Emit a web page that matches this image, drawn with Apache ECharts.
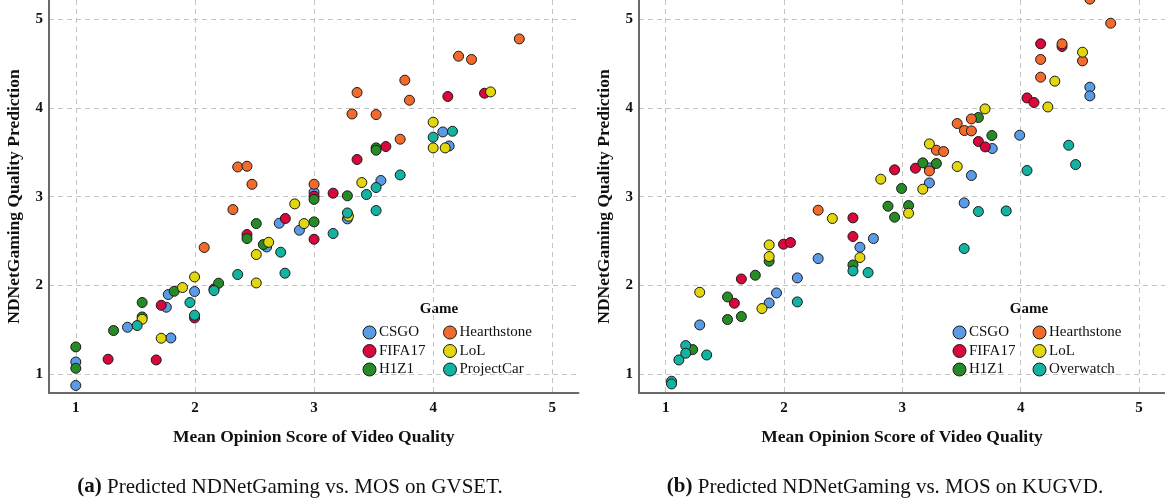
<!DOCTYPE html>
<html>
<head>
<meta charset="utf-8">
<script src="https://cdn.jsdelivr.net/npm/echarts@6/dist/echarts.min.js"></script>
<style>
  html, body { margin: 0; padding: 0; background: #fff; }
  #chart { width: 1165px; height: 504px; }
</style>
</head>
<body>
<div id="chart"></div>
<script>
// Game titles and their colours
const games = ['CSGO', 'FIFA17', 'H1Z1', 'Hearthstone', 'LoL', 'ProjectCar', 'Overwatch'];
const gameColors = {
  CSGO: '#5b9be6', FIFA17: '#d9073b', H1Z1: '#268a26',
  Hearthstone: '#f26b2c', LoL: '#e2d70c', ProjectCar: '#12b3a0', Overwatch: '#12b3a0'
};
const tickValues = [1, 2, 3, 4, 5];

// GVSET: [MOS, predicted score]
const gvsetCSGO = [[1,0.87],[1,1.135],[1.434,1.527],[1.76,1.753],[1.776,1.896],[1.798,1.406],[1.997,1.93],[2.602,2.433],[2.708,2.701],[2.877,2.622],[3.0,3.05],[3.28,2.75],[3.561,3.183],[4.081,3.731],[4.134,3.573]];
const gvsetFIFA17 = [[1.271,1.166],[1.675,1.158],[1.717,1.775],[1.997,1.632],[2.16,1.959],[2.437,2.573],[2.759,2.754],[3.0,2.52],[3.0,3.006],[3.16,3.04],[3.361,3.42],[3.603,3.566],[4.123,4.131],[4.431,4.168]];
const gvsetH1Z1 = [[1,1.305],[1,1.064],[1.317,1.49],[1.557,1.806],[1.557,1.643],[1.826,1.933],[2.199,2.024],[2.437,2.528],[2.515,2.697],[2.574,2.46],[3.0,2.716],[3.0,2.97],[3.28,3.01],[3.521,3.551],[3.521,3.525]];
const gvsetHearthstone = [[2.078,2.427],[2.319,2.855],[2.359,3.336],[2.437,3.344],[2.479,3.14],[3.0,3.141],[3.319,3.934],[3.361,4.176],[3.521,3.927],[3.723,3.649],[3.762,4.315],[3.801,4.089],[4.213,4.586],[4.322,4.549],[4.723,4.781]];
const gvsetLoL = [[1.557,1.617],[1.717,1.403],[1.896,1.975],[1.997,2.095],[2.515,2.027],[2.515,2.348],[2.619,2.486],[2.838,2.919],[2.916,2.697],[3.289,2.78],[3.401,3.16],[4.0,3.841],[4.0,3.551],[4.101,3.551],[4.482,4.183]];
const gvsetProjectCar = [[1.515,1.546],[1.958,1.806],[1.997,1.663],[2.16,1.941],[2.359,2.122],[2.72,2.374],[2.756,2.137],[3.16,2.585],[3.28,2.817],[3.44,3.025],[3.521,3.104],[3.521,2.844],[3.723,3.246],[4.0,3.672],[4.162,3.739]];

// KUGVD: [MOS, predicted score]
const kugvdCSGO = [[1.288,1.553],[1.875,1.801],[1.937,1.914],[2.113,2.084],[2.289,2.302],[2.642,2.43],[2.756,2.528],[3.229,3.156],[3.229,3.325],[3.523,2.93],[3.584,3.239],[3.76,3.544],[3.992,3.694],[4.585,4.236],[4.585,4.138]];
const kugvdFIFA17 = [[1.581,1.798],[1.64,2.072],[1.996,2.464],[2.055,2.483],[2.583,2.761],[2.583,2.551],[2.935,3.303],[3.111,3.322],[3.643,3.623],[3.701,3.562],[4.054,4.115],[4.113,4.063],[4.169,4.725],[4.35,4.695]];
const kugvdH1Z1 = [[1.229,1.275],[1.523,1.869],[1.523,1.614],[1.64,1.648],[1.758,2.114],[1.875,2.272],[2.583,2.23],[2.879,2.893],[2.935,2.769],[2.994,3.093],[3.053,2.9],[3.173,3.382],[3.288,3.375],[3.643,3.894],[3.757,3.691]];
const kugvdHearthstone = [[2.289,2.848],[3.229,3.291],[3.288,3.525],[3.349,3.51],[3.464,3.826],[3.525,3.747],[3.584,3.743],[3.584,3.878],[4.169,4.349],[4.169,4.549],[4.35,4.725],[4.523,4.533],[4.585,5.23],[4.761,4.958]];
const kugvdLoL = [[1.288,1.922],[1.814,1.738],[1.875,2.456],[1.875,2.325],[2.409,2.754],[2.642,2.314],[2.818,3.198],[3.053,2.814],[3.173,3.085],[3.229,3.596],[3.464,3.341],[3.699,3.991],[4.23,4.013],[4.289,4.304],[4.523,4.631]];
const kugvdOverwatch = [[1.05,0.918],[1.05,0.887],[1.112,1.158],[1.17,1.32],[1.17,1.234],[1.347,1.214],[2.113,1.813],[2.583,2.163],[2.711,2.144],[3.523,2.415],[3.643,2.833],[3.878,2.84],[4.054,3.296],[4.406,3.581],[4.465,3.363]];

const panels = [
  { data: { CSGO: gvsetCSGO, FIFA17: gvsetFIFA17, H1Z1: gvsetH1Z1, Hearthstone: gvsetHearthstone, LoL: gvsetLoL, ProjectCar: gvsetProjectCar },
    left: 49, legendX: 362.5, legendX2: 443, titleX: 439,
    capX: 290, capBold: '(a)', capText: ' Predicted NDNetGaming vs. MOS on GVSET.' },
  { data: { CSGO: kugvdCSGO, FIFA17: kugvdFIFA17, H1Z1: kugvdH1Z1, Hearthstone: kugvdHearthstone, LoL: kugvdLoL, Overwatch: kugvdOverwatch },
    left: 639, legendX: 952.5, legendX2: 1032.5, titleX: 1029,
    capX: 885, capBold: '(b)', capText: ' Predicted NDNetGaming vs. MOS on KUGVD.' }
];

const FONT = '"Liberation Serif", "Times New Roman", serif';
const gridLine = { show: true, showMinLine: false, showMaxLine: false,
  lineStyle: { color: '#c4c4c4', width: 1, type: [5, 4] } };
const axisLine = { show: true, onZero: false, lineStyle: { color: '#6a6a6a', width: 2 } };
const tickLabel = { fontFamily: FONT, fontWeight: 'bold', fontSize: 15, color: '#111',
  showMinLabel: false, showMaxLabel: false,
  formatter: v => (tickValues.includes(Math.round(v * 1000) / 1000) ? String(v) : '') };

const grid = [], xAxis = [], yAxis = [], series = [], legend = [], graphic = [];
panels.forEach((p, i) => {
  grid.push({ left: p.left, top: 0, width: 529.5, height: 393 });
  xAxis.push({ type: 'value', gridIndex: i, min: 0.775, max: 5.22, splitNumber: 4,
    axisLine, axisTick: { show: false }, splitLine: gridLine,
    axisLabel: Object.assign({ margin: 8 }, tickLabel),
    name: 'Mean Opinion Score of Video Quality', nameLocation: 'middle', nameGap: 35,
    nameTextStyle: { fontFamily: FONT, fontWeight: 'bold', fontSize: 17.5, color: '#111' } });
  yAxis.push({ type: 'value', gridIndex: i, min: 0.785, max: 5.22, splitNumber: 4,
    axisLine, axisTick: { show: false }, splitLine: gridLine,
    axisLabel: Object.assign({ margin: 6 }, tickLabel),
    name: 'NDNetGaming Quality Prediction', nameLocation: 'middle', nameGap: 26,
    nameTextStyle: { fontFamily: FONT, fontWeight: 'bold', fontSize: 17.5, color: '#111' } });
  const names = Object.keys(p.data);
  names.forEach(name => {
    series.push({ type: 'scatter', name, xAxisIndex: i, yAxisIndex: i, clip: false,
      symbol: 'circle', symbolSize: 10, data: p.data[name],
      itemStyle: { color: gameColors[name], borderColor: '#1a1a1a', borderWidth: 1, opacity: 1 },
      emphasis: { disabled: true } });
  });
  const legendCommon = { orient: 'vertical', top: 325, padding: 0, itemWidth: 13, itemHeight: 13,
    itemGap: 3.5, icon: 'circle', selectedMode: false,
    itemStyle: { borderColor: '#1a1a1a', borderWidth: 1 },
    textStyle: { fontFamily: FONT, fontSize: 15, color: '#111', lineHeight: 13, padding: [0, 0, 0, -2] } };
  legend.push(Object.assign({ left: p.legendX, data: names.slice(0, 3) }, legendCommon));
  legend.push(Object.assign({ left: p.legendX2, data: names.slice(3, 6) }, legendCommon));
  graphic.push({ type: 'text', x: p.titleX, y: 309,
    style: { text: 'Game', fontFamily: FONT, fontWeight: 'bold', fontSize: 15, fill: '#111',
      textAlign: 'center', textVerticalAlign: 'middle' } });
  graphic.push({ type: 'text', x: p.capX, y: 487,
    style: { text: '{b|' + p.capBold + '}' + p.capText,
      rich: { b: { fontFamily: FONT, fontWeight: 'bold', fontSize: 21, fill: '#111' } },
      fontFamily: FONT, fontSize: 21, fill: '#111', textAlign: 'center', textVerticalAlign: 'middle' } });
});

const chart = echarts.init(document.getElementById('chart'), null, { renderer: 'canvas' });
chart.setOption({ animation: false, backgroundColor: '#fff', grid, xAxis, yAxis, series, legend, graphic });
</script>
</body>
</html>
